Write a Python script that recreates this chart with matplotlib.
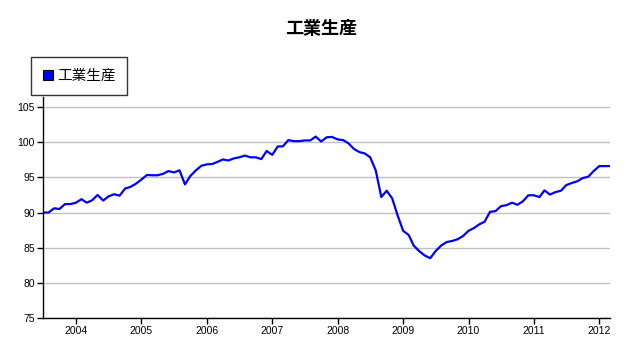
import numpy as np
import pandas as pd
import matplotlib
matplotlib.use("Agg")
import matplotlib.pyplot as plt
import matplotlib.dates as mdates
from matplotlib.patches import Patch

# monthly index, Jul 2003 - Mar 2012
start = "2003-07-01"
values = [
    90.0, 90.0, 90.6, 90.5, 91.2, 91.2,                          # 2003 Jul-Dec
    91.4, 91.9, 91.4, 91.75, 92.5, 91.7, 92.3, 92.6, 92.4, 93.4, 93.65, 94.1,   # 2004
    94.7, 95.35, 95.3, 95.3, 95.5, 95.9, 95.7, 96.0, 94.0, 95.2, 96.0, 96.65,   # 2005
    96.85, 96.9, 97.2, 97.55, 97.4, 97.7, 97.85, 98.1, 97.85, 97.85, 97.6, 98.75,  # 2006
    98.2, 99.4, 99.4, 100.3, 100.15, 100.15, 100.25, 100.25, 100.8, 100.1, 100.7, 100.75,  # 2007
    100.4, 100.3, 99.85, 99.05, 98.6, 98.4, 97.85, 96.0, 92.2, 93.1, 92.0, 89.6,  # 2008
    87.4, 86.8, 85.3, 84.5, 83.9, 83.5, 84.5, 85.3, 85.8, 85.95, 86.2, 86.65,     # 2009
    87.4, 87.8, 88.3, 88.7, 90.1, 90.2, 90.9, 91.05, 91.4, 91.1, 91.6, 92.45,     # 2010
    92.45, 92.2, 93.15, 92.55, 92.9, 93.1, 93.9, 94.2, 94.45, 94.9, 95.1, 95.9,   # 2011
    96.6, 96.6, 96.6,                                                              # 2012 Jan-Mar
]
dates = pd.date_range(start, periods=len(values), freq="MS")

title = "工業生産"
series_name = "工業生産"
y_ticks = [75, 80, 85, 90, 95, 100, 105]

cjk = ["Noto Sans CJK JP", "DejaVu Sans"]

fig = plt.figure(figsize=(6.28, 3.42), dpi=100)
ax = fig.add_axes([43 / 628, 1 - 318 / 342, (610 - 43) / 628, (318 - 96.5) / 342])

ax.plot(dates, values, color="#0000ff", lw=1.6, solid_joinstyle="round")

ax.set_xlim(dates[0], dates[-1])
ax.set_ylim(75, 106.5)
ax.set_yticks(y_ticks)
ax.yaxis.grid(True, color="#c0c0c0", lw=1)
ax.set_axisbelow(True)

ax.xaxis.set_major_locator(mdates.YearLocator())
ax.xaxis.set_major_formatter(mdates.DateFormatter("%Y"))

for s in ["top", "right"]:
    ax.spines[s].set_visible(False)
for s in ["left", "bottom"]:
    ax.spines[s].set_color("black")
    ax.spines[s].set_linewidth(1)

ax.tick_params(axis="both", direction="out", length=4, width=1, color="black",
               labelsize=7.5, pad=2)
for lab in ax.get_xticklabels() + ax.get_yticklabels():
    lab.set_fontfamily("Liberation Sans")

fig.text(0.511, 1 - 29 / 342, title, ha="center", va="center",
         fontsize=13, fontweight="bold", family=cjk)

handle = Patch(facecolor="#0000ff", edgecolor="black", linewidth=0.8)
leg = fig.legend([handle], [series_name], loc="upper left",
                 bbox_to_anchor=(31 / 628, 1 - 57 / 342), borderaxespad=0,
                 prop={"family": cjk, "size": 10.5},
                 handlelength=0.7, handleheight=0.7, handletextpad=0.25,
                 borderpad=0.82, fancybox=False, frameon=True)
leg.get_frame().set_edgecolor("black")
leg.get_frame().set_linewidth(1)

fig.savefig("out.png", dpi=100)
